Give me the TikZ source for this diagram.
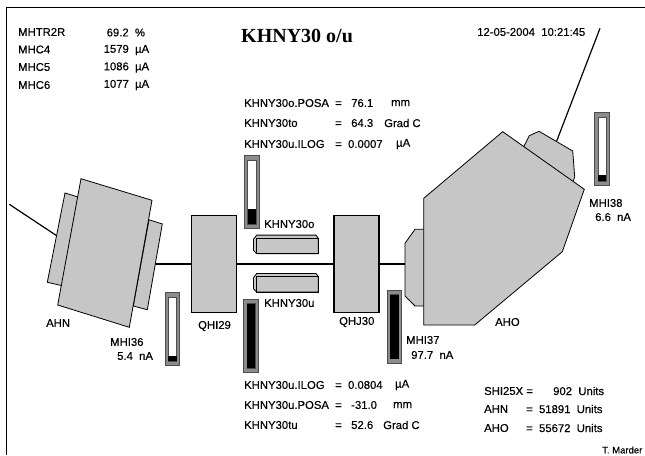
\documentclass[tikz,border=0pt]{standalone}
\usepackage{fontspec}
\setmainfont[FakeBold=0.35]{Liberation Sans}
\newfontfamily\titlefont{Liberation Serif}
\definecolor{PartGrey}{RGB}{198, 198, 198}
\definecolor{FrameGrey}{RGB}{140, 140, 140}
\usetikzlibrary{positioning}

\begin{document}
\begin{tikzpicture}[
    x=1pt, y=-1pt,
    every node/.style={font=\fontsize{11.3}{13}\selectfont, inner sep=0pt, anchor=west},
    part/.style={draw=black, fill=PartGrey, line width=0.8pt},
    magnet/.style={part, line width=1.1pt, minimum width=45pt, minimum height=97pt, anchor=center},
    beam/.style={line width=1.6pt},
    wire/.style={line width=1.2pt}
]
\useasboundingbox (0,0) rectangle (645,455);
% Frame
\draw[line width=0.9pt] (6.5,455) -- (6.5,7) -- (645,7);
% Beam line coordinates
\coordinate (ahnin) at (9.3,204.3);
\coordinate (ahnback) at (56.7,235.7);
\coordinate (ahnout) at (155,263.7);
\coordinate (ahoin) at (405,263.7);
\coordinate (ahoout) at (556.7,141);
\coordinate (ahoend) at (600,28.3);
% Magnets
\node[magnet] (qhi29) at (214,263.7) {};
\node[magnet] (qhj30) at (356.5,263.7) {};
\draw[beam] (ahnout) -- (qhi29.west);
\draw[beam] (qhi29.east) -- (qhj30.west);
\draw[beam] (qhj30.east) -- (ahoin);
\draw[wire] (ahnin) -- (ahnback);
\draw[wire] (ahoout) -- (ahoend);
% Analyser AHN
\draw[part] (65,193) -- (78,197) -- (62,285.7) -- (47.3,282.3) -- cycle;
\draw[part] (149,219.7) -- (162.3,224) -- (147.3,309.7) -- (133.3,306) -- cycle;
\draw[part] (81,178.7) -- (152,200.3) -- (129.3,327.3) -- (57.7,305) -- cycle;
% Analyser AHO
\draw[part] (425,229.3) -- (415,229.3) -- (405,243.3) -- (405,296) -- (415,306) -- (425,306) -- cycle;
\draw[part] (522,150) -- (529.3,135.7) -- (539,131.3) -- (572.7,151) -- (574.7,176.7) -- (572,186) -- cycle;
\draw[part] (423.7,198.3) -- (502.7,131.7) -- (584.3,189.3) -- (562.3,251.7) -- (474.7,325) -- (423.7,325) -- cycle;
% Slits
\foreach \y in {238.3,276.7} {
  \draw[part] (253.5,\y+1) -- (256.7,\y-3.2) -- (316,\y-3.2) -- (318.3,\y) -- (318.3,\y+15.4) -- (256.7,\y+15.4) -- (253.5,\y+12) -- cycle;
  \draw[line width=1.1pt] (256.7,\y) rectangle (318.3,\y+15.4);
}
% Meters
\foreach \x/\y/\lev in {165/292.7/355.5, 244.3/155.7/209, 243.7/299.3/304, 387/290/295, 594.7/112.7/175} {
  \draw[draw=black!70, fill=FrameGrey, line width=0.6pt] (\x,\y) rectangle (\x+14.6,\y+73);
  \draw[draw=black!70, fill=white, line width=0.6pt] (\x+3.3,\y+4.4) rectangle (\x+11.6,\y+68.5);
  \fill[black] (\x+3.3,\lev) rectangle (\x+11.6,\y+68.5);
}
% Title and date
\node[font=\titlefont\bfseries\fontsize{20}{22}\selectfont] (title) at (241,36) {KHNY30 o/u};
\node (date) at (477,32) {12-05-2004\ \ 10:21:45};
% Top left values
\node (mhtr) at (18,32) {MHTR2R};
\node (mhc4) at (18,49.5) {MHC4};
\node (mhc5) at (18,67) {MHC5};
\node (mhc6) at (18,85) {MHC6};
\node (mhtrval) at (106.5,32.5) {69.2\ \ \%};
\node (mhc4val) at (103.5,50) {1579\ \ µA};
\node (mhc5val) at (103.5,67.5) {1086\ \ µA};
\node (mhc6val) at (103.5,85) {1077\ \ µA};
% Upper slit values
\node (posao) at (244,103) {KHNY30o.POSA};
\node (posaoval) at (335,103) {=\ \ \ 76.1};
\node (posaounit) at (391,103) {mm};
\node (to) at (244,123) {KHNY30to};
\node (toval) at (335,123) {=\ \ \ 64.3};
\node (tounit) at (384,123) {Grad C};
\node (ilogo) at (244,144) {KHNY30u.ILOG};
\node (ilogoval) at (335,144) {=\ \ 0.0007};
\node (ilogounit) at (396,144) {µA};
% Lower slit values
\node (ilogu) at (244,385) {KHNY30u.ILOG};
\node (iloguval) at (335,385) {=\ \ 0.0804};
\node (ilogounit2) at (395,385) {µA};
\node (posau) at (244,405) {KHNY30u.POSA};
\node (posauval) at (335,405) {=\ \ \ -31.0};
\node (posauunit) at (393,405) {mm};
\node (tu) at (244,425) {KHNY30tu};
\node (tuval) at (335,425) {=\ \ \ 52.6};
\node (tuunit) at (383,425) {Grad C};
% Units
\node (shi) at (484,391) {SHI25X =};
\node (shival) at (553,391) {902\ \ Units};
\node (ahnlab) at (484,409) {AHN};
\node (ahnval) at (526,409) {=\ \ 51891\ \ Units};
\node (aholab) at (484,428) {AHO};
\node (ahoval) at (526,428) {=\ \ 55672\ \ Units};
\node[font=\fontsize{9.5}{11}\selectfont] (author) at (602,450) {T.\ Marder};
% Element labels
\node (ahn) at (46,323) {AHN};
\node (mhi36) at (110,342) {MHI36};
\node (mhi36val) at (117,356) {5.4\ \ nA};
\node (qhi29lab) at (198,326) {QHI29};
\node (khnyo) at (264,224) {KHNY30o};
\node (khnyu) at (264,303) {KHNY30u};
\node (qhj30lab) at (339,322) {QHJ30};
\node (mhi37) at (406,340) {MHI37};
\node (mhi37val) at (411,355) {97.7\ \ nA};
\node (aho) at (495,322) {AHO};
\node (mhi38) at (589,203) {MHI38};
\node (mhi38val) at (595,217) {6.6\ \ nA};
\end{tikzpicture}
\end{document}
